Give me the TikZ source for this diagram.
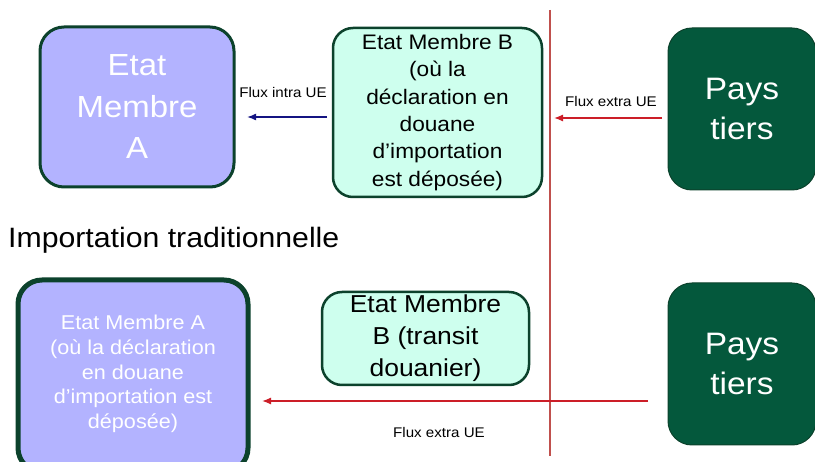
\documentclass[tikz,border=0pt]{standalone}
\usepackage{fontspec}
\setmainfont[FakeStretch=1.08]{Liberation Sans}
\usetikzlibrary{arrows.meta}
\definecolor{peri}{RGB}{179,179,255}
\definecolor{mint}{RGB}{206,255,238}
\definecolor{dkgreen}{RGB}{4,88,60}
\definecolor{edgegreen}{RGB}{12,66,44}
\definecolor{flowred}{RGB}{204,30,40}
\definecolor{flowblue}{RGB}{20,20,130}
\definecolor{borderline}{RGB}{192,80,77}
\begin{document}
\begin{tikzpicture}[x=1pt,y=-1pt,
  box/.style={rectangle, align=center, inner sep=0pt},
  periBox/.style={box, fill=peri, draw=edgegreen, text=white, rounded corners=24pt},
  mintBox/.style={box, fill=mint, draw=edgegreen, line width=2.5pt, text=black, rounded corners=20pt},
  paysBox/.style={box, fill=dkgreen, draw=edgegreen, line width=1pt, text=white, rounded corners=24pt,
    font=\fontsize{31}{39.5}\selectfont},
  flow/.style={line width=1.6pt, -{Latex[length=9pt,width=7pt]}},
  lbl/.style={inner sep=0pt, anchor=base, font=\fontsize{14}{17}\selectfont}
]
\useasboundingbox (0,0) rectangle (815,462);
\fill[white] (0,0) rectangle (815,462);

% frontier line
\coordinate (vtop) at (550,10);
\coordinate (vbot) at (550,456);
\draw[borderline, line width=1.8pt] (vtop) -- (vbot);

% top row
\node[periBox, line width=3pt, minimum width=194pt, minimum height=160pt,
  font=\fontsize{30.5}{41.5}\selectfont] (A1) at (137,107) {Etat\\Membre\\A};
\node[mintBox, minimum width=209pt, minimum height=169pt,
  font=\fontsize{21}{27.3}\selectfont] (B1) at (437.5,112.5)
  {Etat Membre B\\(où la\\déclaration en\\douane\\d’importation\\est déposée)};
\node[paysBox, minimum width=148pt, minimum height=162pt] (P1) at (742,109) {Pays\\tiers};

\coordinate (b1s) at (327,117);
\coordinate (b1e) at (247,117);
\draw[flow, flowblue] (b1s) -- (b1e);
\node[lbl] (L1) at (283,98) {Flux intra UE};
\coordinate (r1s) at (662,118);
\coordinate (r1e) at (554,118);
\draw[flow, flowred, line width=1.3pt] (r1s) -- (r1e);
\node[lbl] (L2) at (611,107) {Flux extra UE};

% title
\node[inner sep=0pt, anchor=base west, font=\fontsize{28}{32}\selectfont] (T) at (8,248) {Importation traditionnelle};

% bottom row
\node[periBox, line width=5pt, minimum width=230pt, minimum height=192pt] (A2) at (133,376) {};
\node[text=white, align=center, inner sep=0pt, font=\fontsize{20}{24.6}\selectfont] (A2t) at (133,374)
  {Etat Membre A\\(où la déclaration\\en douane\\d’importation est\\déposée)};
\node[mintBox, minimum width=207pt, minimum height=93pt,
  font=\fontsize{24.5}{32}\selectfont] (B2) at (425.5,338.5) {Etat Membre\\B (transit\\douanier)};
\node[paysBox, minimum width=148pt, minimum height=162pt] (P2) at (742,364) {Pays\\tiers};

\coordinate (r2s) at (648,401);
\coordinate (r2e) at (262,401);
\draw[flow, flowred, line width=1.3pt] (r2s) -- (r2e);
\node[lbl] (L3) at (439,438) {Flux extra UE};
\end{tikzpicture}
\end{document}
